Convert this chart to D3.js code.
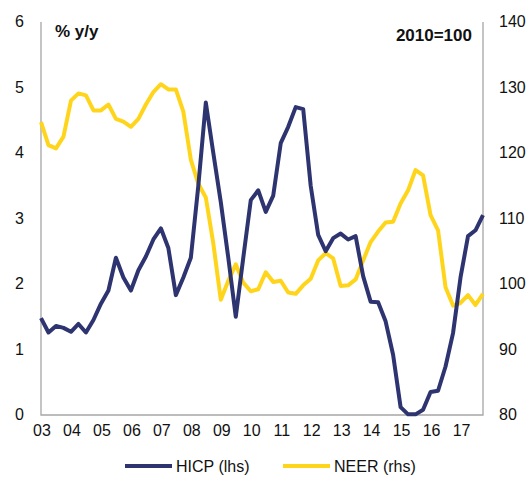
<!DOCTYPE html>
<html>
<head>
<meta charset="utf-8">
<script src="https://cdn.jsdelivr.net/npm/d3@7"></script>
<style>
  body { margin: 0; background: #fff; }
  text { font-family: "Liberation Sans", Arial, sans-serif; }
</style>
</head>
<body>
<div id="chart"></div>
<script>
// quarterly, 2003Q1 .. 2017Q4
var years = ["03","04","05","06","07","08","09","10","11","12","13","14","15","16","17"];

var hicp = [1.48,1.26,1.36,1.33,1.27,1.39,1.26,1.45,
            1.70,1.90,2.40,2.10,1.90,2.21,2.42,2.68,
            2.85,2.55,1.83,2.10,2.40,3.50,4.77,4.00,
            3.25,2.40,1.50,2.40,3.28,3.43,3.10,3.35,
            4.15,4.40,4.70,4.67,3.50,2.75,2.50,2.70,
            2.77,2.68,2.73,2.12,1.73,1.72,1.43,0.92,
            0.12,0.01,0.01,0.08,0.35,0.37,0.74,1.25,
            2.10,2.73,2.82,3.05];

var neer = [124.7,121.2,120.7,122.5,128.0,129.1,128.8,126.5,
            126.5,127.4,125.2,124.8,124.0,125.2,127.4,129.3,
            130.5,129.7,129.7,126.3,119.0,115.3,113.2,106.2,
            97.6,100.5,103.0,100.2,98.9,99.2,101.8,100.3,
            100.5,98.7,98.5,99.8,100.8,103.6,104.7,103.9,
            99.7,99.8,100.7,103.6,106.4,108.0,109.4,109.5,
            112.3,114.3,117.4,116.6,110.5,108.2,99.5,96.7,
            97.1,98.3,96.8,98.5];

var leftTicks = [0,1,2,3,4,5,6];
var rightTicks = [80,90,100,110,120,130,140];

var W = 531, H = 487;
var m = {left: 41, right: 48, top: 22, bottom: 72};
var pw = W - m.left - m.right, ph = H - m.top - m.bottom;

var navy = "#2E3470", yellow = "#FFD51C", axisGray = "#A6A6A6";

var svg = d3.select("#chart").append("svg")
  .attr("width", W).attr("height", H);

var x = d3.scaleLinear().domain([0, hicp.length - 1]).range([m.left, m.left + pw]);
var yL = d3.scaleLinear().domain([0, 6]).range([m.top + ph, m.top]);
var yR = d3.scaleLinear().domain([80, 140]).range([m.top + ph, m.top]);

// frame: left, bottom, right
svg.append("path")
  .attr("d", "M" + m.left + "," + m.top + "V" + (m.top + ph) + "H" + (m.left + pw) + "V" + m.top)
  .attr("fill", "none").attr("stroke", axisGray).attr("stroke-width", 1.3);

// left axis labels
svg.selectAll(".ly").data(leftTicks).enter().append("text")
  .attr("x", 24).attr("y", function(d) { return yL(d); })
  .attr("dy", "0.33em").attr("text-anchor", "end")
  .attr("font-size", "16px").attr("fill", "#111")
  .text(function(d) { return d; });

// right axis labels
svg.selectAll(".ry").data(rightTicks).enter().append("text")
  .attr("x", 499).attr("y", function(d) { return yR(d); })
  .attr("dy", "0.33em").attr("text-anchor", "start")
  .attr("font-size", "16px").attr("fill", "#111")
  .text(function(d) { return d; });

// year labels at Q1 of each year
svg.selectAll(".xl").data(years).enter().append("text")
  .attr("x", function(d, i) { return x(i * 4) + 1; })
  .attr("y", 436).attr("text-anchor", "middle")
  .attr("font-size", "16px").attr("fill", "#111")
  .text(function(d) { return d; });

var line = function(yScale) {
  return d3.line().x(function(d, i) { return x(i); }).y(function(d) { return yScale(d); });
};

svg.append("path").datum(neer)
  .attr("d", line(yR)).attr("fill", "none")
  .attr("stroke", yellow).attr("stroke-width", 4).attr("stroke-linejoin", "round");

svg.append("path").datum(hicp)
  .attr("d", line(yL)).attr("fill", "none")
  .attr("stroke", navy).attr("stroke-width", 4).attr("stroke-linejoin", "round");

svg.append("text").attr("x", 55).attr("y", 37)
  .attr("font-size", "17px").attr("font-weight", "bold").attr("fill", "#111")
  .text("% y/y");

svg.append("text").attr("x", 472).attr("y", 41).attr("text-anchor", "end")
  .attr("font-size", "17px").attr("font-weight", "bold").attr("fill", "#111")
  .text("2010=100");

// legend
var legend = [{name: "HICP (lhs)", color: navy, x: 125}, {name: "NEER (rhs)", color: yellow, x: 283}];
var lg = svg.selectAll(".lg").data(legend).enter().append("g");
lg.append("line")
  .attr("x1", function(d) { return d.x; }).attr("x2", function(d) { return d.x + 47; })
  .attr("y1", 466).attr("y2", 466)
  .attr("stroke", function(d) { return d.color; }).attr("stroke-width", 4);
lg.append("text")
  .attr("x", function(d) { return d.x + 51; }).attr("y", 472)
  .attr("font-size", "16px").attr("fill", "#111")
  .text(function(d) { return d.name; });
</script>
</body>
</html>
